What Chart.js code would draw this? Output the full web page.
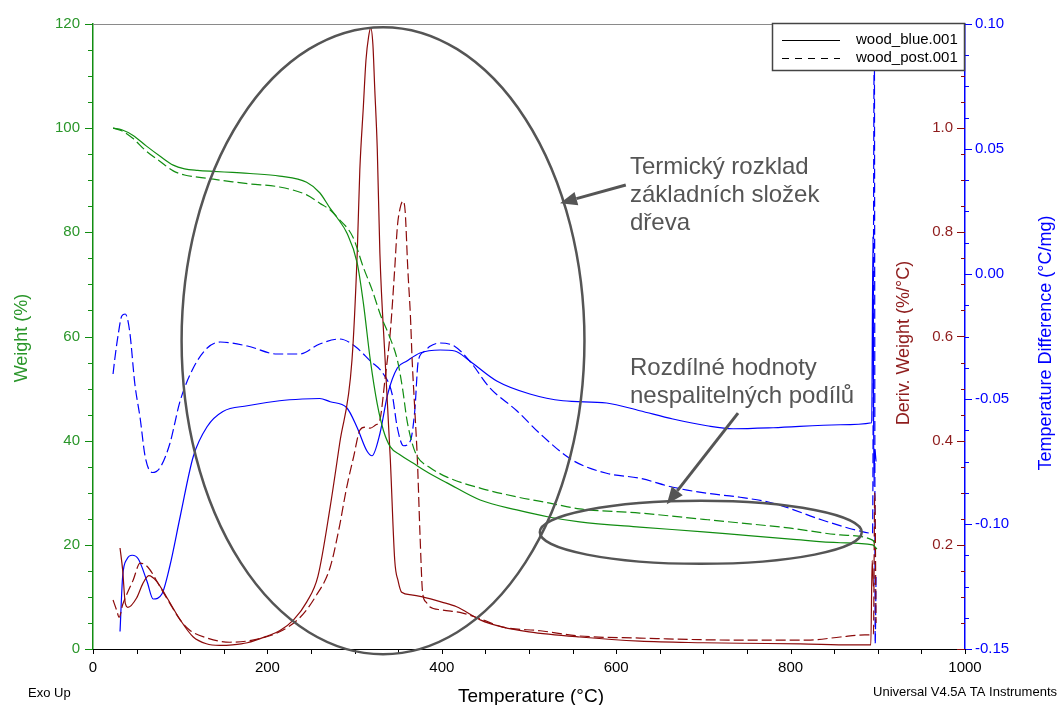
<!DOCTYPE html>
<html>
<head>
<meta charset="utf-8">
<script src="https://cdn.jsdelivr.net/npm/chart.js@4.4.1/dist/chart.umd.min.js"></script>
<style>
  html, body { margin: 0; padding: 0; background: #fff; }
  #wrap { width: 1059px; height: 705px; position: relative; }
</style>
</head>
<body>
<div id="wrap"><canvas id="tga" width="1059" height="705"></canvas></div>
<script>

// weight, wood_blue (solid)
const tWeightBlue = [23, 33, 46, 61, 77, 92, 105, 120, 138, 160, 180, 214, 245, 260, 272, 280, 291, 303, 310, 318, 326, 333, 341, 352, 367, 385, 406, 444, 486, 524, 558, 627, 700, 742, 800, 857, 894, 899];
const weightBlue  = [100, 99.7, 98.6, 96.6, 94.6, 92.9, 92.2, 91.9, 91.7, 91.5, 91.3, 90.8, 89.6, 87.6, 84.6, 82.8, 79.9, 74.1, 66.5, 55.5, 47, 42, 38.8, 37.3, 35.7, 33.8, 31.9, 28.6, 26.7, 25.3, 24.4, 23.4, 22.5, 21.9, 21.1, 20.4, 20.0, 19.2];

// weight, wood_post (dashed)
const tWeightPost = [23, 33, 46, 61, 77, 92, 105, 120, 138, 160, 180, 214, 245, 260, 272, 280, 298, 310, 320, 330, 340, 349, 355, 360, 366, 372, 385, 406, 444, 486, 524, 558, 627, 700, 742, 800, 857, 894, 899];
const weightPost  = [100, 99.5, 98, 95.6, 93.6, 91.8, 91, 90.6, 90.2, 89.7, 89.3, 88.7, 87.2, 85.6, 84.3, 82.9, 79.1, 73.3, 69, 64, 60, 55.5, 50, 44, 39.5, 36.9, 35, 33, 30.9, 29.2, 28, 26.9, 26.1, 24.9, 24.2, 23.2, 21.9, 20.9, 19.6];

// derivative weight, wood_blue (solid)
const tDerivBlue = [31, 34, 37, 40, 50, 57, 64, 73, 85, 100, 115, 130, 145, 160, 177, 200, 214, 230, 245, 258, 272, 283, 297, 303, 306, 310, 313, 316, 318.5, 321, 323, 326, 329, 335, 341, 346, 350, 354, 365, 378, 400, 417, 444, 470, 500, 558, 627, 700, 742, 811, 870, 892, 893.5, 895];
const derivBlue  = [0.194, 0.152, 0.088, 0.08, 0.098, 0.125, 0.141, 0.13, 0.098, 0.056, 0.023, 0.01, 0.007, 0.008, 0.012, 0.025, 0.035, 0.056, 0.09, 0.14, 0.273, 0.396, 0.555, 0.76, 0.92, 1.04, 1.13, 1.175, 1.192, 1.16, 1.08, 0.96, 0.76, 0.555, 0.363, 0.171, 0.13, 0.109, 0.104, 0.1, 0.09, 0.081, 0.056, 0.042, 0.033, 0.023, 0.015, 0.012, 0.011, 0.01, 0.008, 0.008, 0.17, 0.12];

// derivative weight, wood_post (dashed)
const tDerivPost = [23, 27, 30, 34, 39, 46, 54, 63, 77, 88, 100, 111, 131, 157, 183, 214, 237, 255, 272, 282, 291, 299, 306, 312, 318, 324, 329, 335, 341, 346, 349, 352, 355.5, 358, 361, 364, 366, 369, 372, 375, 378, 382, 386, 400, 424, 444, 470, 513, 558, 627, 742, 819, 857, 885, 895, 896.5, 898];
const derivPost  = [0.094, 0.075, 0.061, 0.085, 0.106, 0.132, 0.165, 0.157, 0.119, 0.088, 0.056, 0.036, 0.021, 0.013, 0.017, 0.033, 0.06, 0.1, 0.157, 0.23, 0.311, 0.37, 0.42, 0.426, 0.424, 0.43, 0.44, 0.52, 0.61, 0.73, 0.81, 0.845, 0.86, 0.84, 0.73, 0.64, 0.555, 0.46, 0.363, 0.22, 0.108, 0.09, 0.081, 0.075, 0.069, 0.058, 0.042, 0.035, 0.025, 0.021, 0.017, 0.017, 0.023, 0.027, 0.028, 0.3, 0.05];

// temperature difference, wood_blue (solid)
const tDiffBlue = [31, 34, 39, 45, 52, 62, 69, 79, 88, 100, 115, 131, 149, 177, 214, 240, 260, 272, 291, 303, 314, 320, 329, 338, 349, 360, 375, 398, 415, 432, 463, 501, 539, 589, 627, 665, 704, 734, 780, 857, 893, 894.5, 895.5, 896.5, 898];
const diffBlue  = [-0.143, -0.121, -0.114, -0.1125, -0.114, -0.123, -0.13, -0.128, -0.117, -0.097, -0.073, -0.061, -0.055, -0.0527, -0.0507, -0.05, -0.0498, -0.0511, -0.0535, -0.0615, -0.0707, -0.0727, -0.0639, -0.048, -0.0376, -0.0348, -0.0316, -0.0304, -0.0308, -0.0348, -0.0428, -0.048, -0.0507, -0.0516, -0.0547, -0.058, -0.0607, -0.0619, -0.0615, -0.0603, -0.0595, 0.015, -0.085, -0.07, -0.075];

// temperature difference, wood_post (dashed)
const tDiffPost = [23, 25, 29, 33, 37, 42, 48, 54, 60, 68, 77, 88, 100, 115, 131, 146, 177, 211, 237, 260, 283, 300, 318, 333, 343, 349, 356, 364, 369, 373, 380, 386, 398, 415, 432, 455, 486, 513, 550, 589, 627, 665, 704, 742, 780, 837, 876, 894, 896, 897, 898];
const diffPost  = [-0.04, -0.034, -0.024, -0.0168, -0.016, -0.0228, -0.044, -0.0575, -0.0734, -0.0794, -0.0774, -0.068, -0.0507, -0.0376, -0.0296, -0.0272, -0.0288, -0.032, -0.032, -0.028, -0.026, -0.0288, -0.0348, -0.04, -0.048, -0.0615, -0.0687, -0.0667, -0.0547, -0.0348, -0.031, -0.029, -0.0276, -0.029, -0.0348, -0.0455, -0.0547, -0.064, -0.0745, -0.0797, -0.0817, -0.0853, -0.0877, -0.0893, -0.0917, -0.0985, -0.1025, -0.1037, 0.098, -0.148, -0.12];

const seriesNames = ["wood_blue.001", "wood_post.001"];

/* ---------- look ---------- */

const FONT = "'Liberation Sans', Arial, Helvetica, sans-serif";
const GREEN = "#118d11";
const GREEN_TXT = "#2a962a";
const DARKRED = "#8b0a0a";
const DARKRED_TXT = "#8e1c1c";
const BLUE = "#0000ff";
const GRAY = "#555555";
const DASH = [10, 4];

const pts = (xs, ys) => xs.map((x, i) => ({ x: x, y: ys[i] }));

function line(label, xs, ys, axis, color, dashed) {
    return {
        label: label,
        data: pts(xs, ys),
        yAxisID: axis,
        borderColor: color,
        borderWidth: 1.2,
        borderDash: dashed ? DASH : [],
        pointRadius: 0,
        fill: false,
        cubicInterpolationMode: "monotone"
    };
}

/* ---------- annotations (ellipses, arrows, notes) ---------- */

const bigRing   = { t: 332.6, w: 59.2, dt: 231, dw: 60.2 };
const smallRing = { t: 697, w: 22.4, dt: 184.6, dw: 6.05 };
const arrows = [
    { from: [611, 89.1], to: [535.6, 85.6] },
    { from: [739.7, 45.3], to: [658, 27.8] }
];
const noteTop = ["Termický rozklad", "základních složek", "dřeva"];
const noteBottom = ["Rozdílné hodnoty", "nespalitelných podílů"];

function drawArrow(ctx, x1, y1, x2, y2) {
    const ang = Math.atan2(y2 - y1, x2 - x1);
    const head = 17, half = 7;
    const bx = x2 - head * Math.cos(ang), by = y2 - head * Math.sin(ang);
    ctx.beginPath();
    ctx.moveTo(x1, y1);
    ctx.lineTo(bx, by);
    ctx.stroke();
    ctx.beginPath();
    ctx.moveTo(x2, y2);
    ctx.lineTo(bx + half * Math.sin(ang), by - half * Math.cos(ang));
    ctx.lineTo(bx - half * Math.sin(ang), by + half * Math.cos(ang));
    ctx.closePath();
    ctx.fill();
}

function ticks(ctx, scale, from, to, step, pos, len, dir, vertical) {
    const n = Math.round((to - from) / step);
    ctx.beginPath();
    for (let i = 0; i <= n; i++) {
        const p = Math.round(scale.getPixelForValue(from + i * step)) + 0.5;
        if (vertical) { ctx.moveTo(pos, p); ctx.lineTo(pos + dir * len, p); }
        else { ctx.moveTo(p, pos); ctx.lineTo(p, pos + dir * len); }
    }
    ctx.stroke();
}

function vText(ctx, text, x, y, color, size) {
    ctx.save();
    ctx.translate(x, y);
    ctx.rotate(-Math.PI / 2);
    ctx.fillStyle = color;
    ctx.font = size + "px " + FONT;
    ctx.textAlign = "center";
    ctx.textBaseline = "middle";
    ctx.fillText(text, 0, 0);
    ctx.restore();
}

const decorations = {
    id: "decorations",
    afterDraw(chart) {
        const ctx = chart.ctx;
        const a = chart.chartArea;
        const sx = chart.scales.x, sw = chart.scales.yW, sd = chart.scales.yD, st = chart.scales.yT;
        ctx.save();

        // frame top
        ctx.strokeStyle = "#8a8a8a";
        ctx.lineWidth = 1;
        ctx.beginPath();
        ctx.moveTo(a.left, a.top + 0.5);
        ctx.lineTo(a.right, a.top + 0.5);
        ctx.stroke();

        // tick marks
        ctx.lineWidth = 1;
        ctx.strokeStyle = GREEN;
        ticks(ctx, sw, 0, 120, 20, a.left, 8, -1, true);
        ticks(ctx, sw, 0, 120, 5, a.left, 5, -1, true);
        ctx.strokeStyle = DARKRED;
        ticks(ctx, sd, 0, 1.2, 0.2, a.right, 8, -1, true);
        ticks(ctx, sd, 0, 1.2, 0.05, a.right, 4, -1, true);
        ctx.strokeStyle = BLUE;
        ticks(ctx, st, -0.15, 0.10, 0.05, a.right, 7, 1, true);
        ticks(ctx, st, -0.15, 0.10, 0.0125, a.right, 4, 1, true);
        ctx.strokeStyle = "#000";
        ticks(ctx, sx, 0, 1000, 50, a.bottom, 5, 1, false);

        // axis titles
        vText(ctx, "Weight (%)", 22, 338, GREEN_TXT, 18);
        vText(ctx, "Deriv. Weight (%/°C)", 904, 343, DARKRED_TXT, 18);
        vText(ctx, "Temperature Difference (°C/mg)", 1046, 343, BLUE, 18);
        ctx.fillStyle = "#000";
        ctx.font = "19px " + FONT;
        ctx.textAlign = "center";
        ctx.textBaseline = "middle";
        ctx.fillText("Temperature (°C)", 531, 697);
        ctx.font = "13px " + FONT;
        ctx.textAlign = "left";
        ctx.fillText("Exo Up", 28, 693);
        ctx.textAlign = "right";
        ctx.fillText("Universal V4.5A TA Instruments", 1057, 692);

        // ellipses
        ctx.strokeStyle = GRAY;
        ctx.fillStyle = GRAY;
        ctx.lineWidth = 2.5;
        [bigRing, smallRing].forEach(r => {
            const cx = sx.getPixelForValue(r.t), cy = sw.getPixelForValue(r.w);
            const rx = sx.getPixelForValue(r.t + r.dt) - cx;
            const ry = cy - sw.getPixelForValue(r.w + r.dw);
            ctx.beginPath();
            ctx.ellipse(cx, cy, rx, ry, 0, 0, Math.PI * 2);
            ctx.stroke();
        });

        // arrows
        ctx.lineWidth = 3;
        arrows.forEach(ar => {
            drawArrow(ctx,
                sx.getPixelForValue(ar.from[0]), sw.getPixelForValue(ar.from[1]),
                sx.getPixelForValue(ar.to[0]), sw.getPixelForValue(ar.to[1]));
        });

        // notes
        ctx.font = "24px " + FONT;
        ctx.textAlign = "left";
        ctx.textBaseline = "middle";
        noteTop.forEach((s, i) => ctx.fillText(s, 630, 167 + i * 28));
        noteBottom.forEach((s, i) => ctx.fillText(s, 630, 368 + i * 28));

        // legend
        ctx.fillStyle = "#fff";
        ctx.fillRect(772, 23, 192, 47);
        ctx.strokeStyle = "#444";
        ctx.lineWidth = 1.5;
        ctx.strokeRect(772.5, 23.5, 192, 47);
        ctx.strokeStyle = "#000";
        ctx.lineWidth = 1;
        ctx.beginPath();
        ctx.moveTo(782, 40.5); ctx.lineTo(840, 40.5);
        ctx.stroke();
        ctx.setLineDash([7, 6]);
        ctx.beginPath();
        ctx.moveTo(782, 58.5); ctx.lineTo(840, 58.5);
        ctx.stroke();
        ctx.setLineDash([]);
        ctx.fillStyle = "#000";
        ctx.font = "15px " + FONT;
        ctx.fillText(seriesNames[0], 856, 40);
        ctx.fillText(seriesNames[1], 856, 58);

        ctx.restore();
    }
};

/* ---------- chart ---------- */

const tickFont = { family: FONT, size: 15 };

new Chart(document.getElementById("tga"), {
    type: "line",
    data: {
        datasets: [
            line(seriesNames[0], tWeightBlue, weightBlue, "yW", GREEN, false),
            line(seriesNames[1], tWeightPost, weightPost, "yW", GREEN, true),
            line(seriesNames[0], tDerivBlue, derivBlue, "yD", DARKRED, false),
            line(seriesNames[1], tDerivPost, derivPost, "yD", DARKRED, true),
            line(seriesNames[0], tDiffBlue, diffBlue, "yT", BLUE, false),
            line(seriesNames[1], tDiffPost, diffPost, "yT", BLUE, true)
        ]
    },
    options: {
        responsive: false,
        animation: false,
        devicePixelRatio: 1,
        layout: { padding: { top: 24, left: 0, right: 0, bottom: 0 } },
        plugins: { legend: { display: false }, tooltip: { enabled: false } },
        scales: {
            x: {
                type: "linear", position: "bottom", min: 0, max: 1000,
                ticks: { stepSize: 200, color: "#000", font: tickFont, padding: 10, maxRotation: 0, callback: v => String(v) },
                grid: { display: false, drawTicks: false },
                border: { color: "#000", width: 1 },
                afterFit: s => { s.height = 56; }
            },
            yW: {
                type: "linear", position: "left", min: 0, max: 120,
                ticks: { stepSize: 20, color: GREEN_TXT, font: tickFont, padding: 13 },
                grid: { display: false, drawTicks: false },
                border: { color: GREEN, width: 1.5 },
                afterFit: s => { s.width = 93; }
            },
            yD: {
                type: "linear", position: "right", weight: 0, min: 0, max: 1.2,
                ticks: {
                    stepSize: 0.2, mirror: true, color: DARKRED_TXT, font: tickFont, padding: -12,
                    callback: v => (v > 0.05 && v < 1.15) ? v.toFixed(1) : ""
                },
                grid: { display: false, drawTicks: false },
                border: { display: false },
                afterFit: s => { s.width = 0; }
            },
            yT: {
                type: "linear", position: "right", weight: 1, min: -0.15, max: 0.10,
                ticks: {
                    stepSize: 0.05, color: BLUE, font: tickFont, padding: 10,
                    callback: v => Math.abs(v) < 1e-9 ? "0.00" : v.toFixed(2)
                },
                grid: { display: false, drawTicks: false },
                border: { color: BLUE, width: 1.5 },
                afterFit: s => { s.width = 94; }
            }
        }
    },
    plugins: [decorations]
});
</script>
</body>
</html>
